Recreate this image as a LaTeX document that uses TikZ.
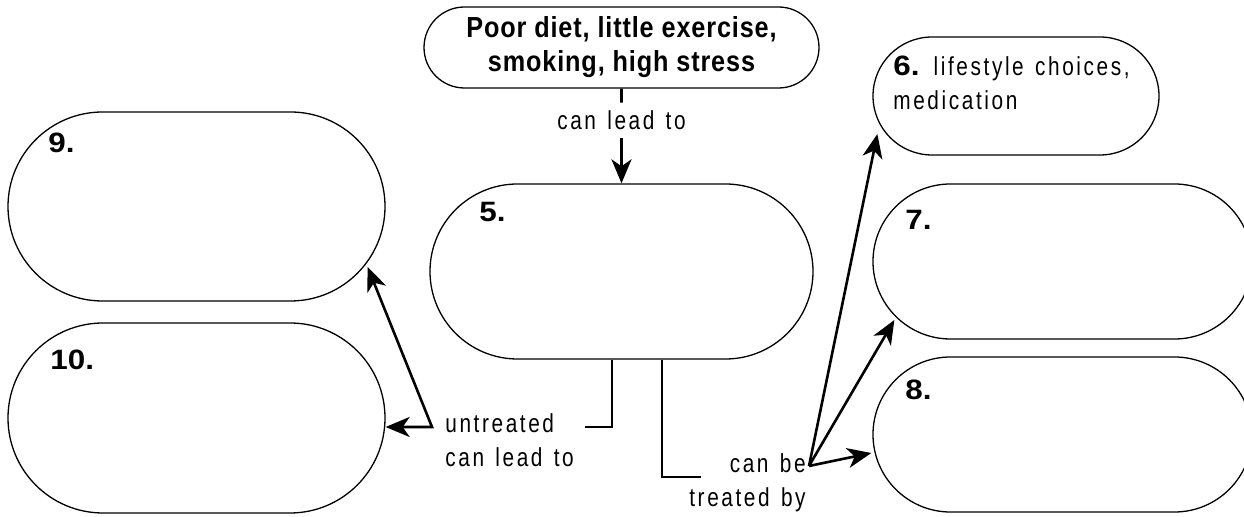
\documentclass[tikz,border=0pt]{standalone}
\usepackage{fontspec}
\setmainfont{Liberation Sans}[
  UprightFeatures={FakeStretch=0.8, LetterSpace=10, WordSpace=1.35},
  BoldFeatures={FakeStretch=0.87, LetterSpace=3}]
\newfontfamily\numfont{Liberation Sans}[FakeStretch=1.12]
\usetikzlibrary{arrows.meta,calc,shapes.misc}

\begin{document}
\begin{tikzpicture}[x=0.5pt, y=-0.5pt,
  box/.style={rounded rectangle, draw, line width=0.65pt, inner sep=0pt},
  conn/.style={line width=1.3pt},
  arr/.style={conn, -{Stealth[length=12pt, width=10pt, inset=3.5pt]}},
  darr/.style={conn, {Stealth[length=12pt, width=10pt, inset=3.5pt]}-{Stealth[length=12pt, width=10pt, inset=3.5pt]}},
  num/.style={font=\numfont\bfseries\fontsize{14}{17}\selectfont, inner sep=0pt},
  txt/.style={font=\fontsize{13}{17}\selectfont, inner sep=0pt}]
  % 画素座標で配置(y は下向き)
  \useasboundingbox (0,0) rectangle (1244,517);

  % 枠
  \node[box, minimum width=197.5pt, minimum height=40.5pt,
        font=\bfseries\fontsize{14.5}{17}\selectfont, align=center] (diet) at (621.5,47.5)
        {Poor diet, little exercise,\\smoking, high stress};
  \node[box, minimum width=191.5pt, minimum height=87.5pt] (heart) at (621.5,271.5) {};
  \node[box, minimum width=143pt, minimum height=59pt] (treat6) at (1016,96) {};
  \node[box, minimum width=189.5pt, minimum height=77.5pt] (treat7) at (1062.5,261.5) {};
  \node[box, minimum width=189.5pt, minimum height=77.5pt] (treat8) at (1062.5,434.5) {};
  \node[box, minimum width=188.5pt, minimum height=94.5pt] (risk9) at (196.5,206.5) {};
  \node[box, minimum width=188.5pt, minimum height=95pt] (risk10) at (196.5,418) {};

  % 番号
  \node[num, anchor=west] (n5) at (479,212) {5.};
  \node[num, anchor=west] (n7) at (905,220) {7.};
  \node[num, anchor=west] (n8) at (905,390) {8.};
  \node[num, anchor=west] (n9) at (48,143) {9.};
  \node[num, anchor=west] (n10) at (50,360) {10.};
  \node[txt, anchor=north west, align=left] (n6) at (893,56)
        {{\numfont\bfseries\fontsize{14}{17}\selectfont 6.} lifestyle choices,\\medication};

  % 原因 → 5
  \node[txt, minimum height=17.5pt] (lead) at (621.5,120.5) {can lead to};
  \draw[conn] (diet) -- (lead);
  \draw[arr] (lead) -- (heart);

  % 未治療
  \node[txt, anchor=west, align=left] (untreated) at (445,440) {untreated\\can lead to};
  \coordinate (ut-in) at (585,427);
  \coordinate (ut-out) at (432,427);
  \draw[conn] ([xshift=-4.75pt]heart.south) |- (ut-in);
  \draw[darr] ($(risk9.east)+(-18,60.5)$) -- (ut-out) -- (ut-out -| risk10.east);

  % 治療
  \node[txt, anchor=east, align=right] (treated) at (806,483) {can be\\treated by};
  \coordinate (tr-in) at (701,477);
  \coordinate (tr-out) at (809,466);
  \draw[conn] ([xshift=20.25pt]heart.south) |- (tr-in);
  \draw[arr] (tr-out) -- ($(treat6.west)+(5,38)$);
  \draw[arr] (tr-out) -- ($(treat7.west)+(22,58.5)$);
  \draw[arr] (tr-out) -- ($(treat8.west)+(-1,18.5)$);
\end{tikzpicture}
\end{document}
